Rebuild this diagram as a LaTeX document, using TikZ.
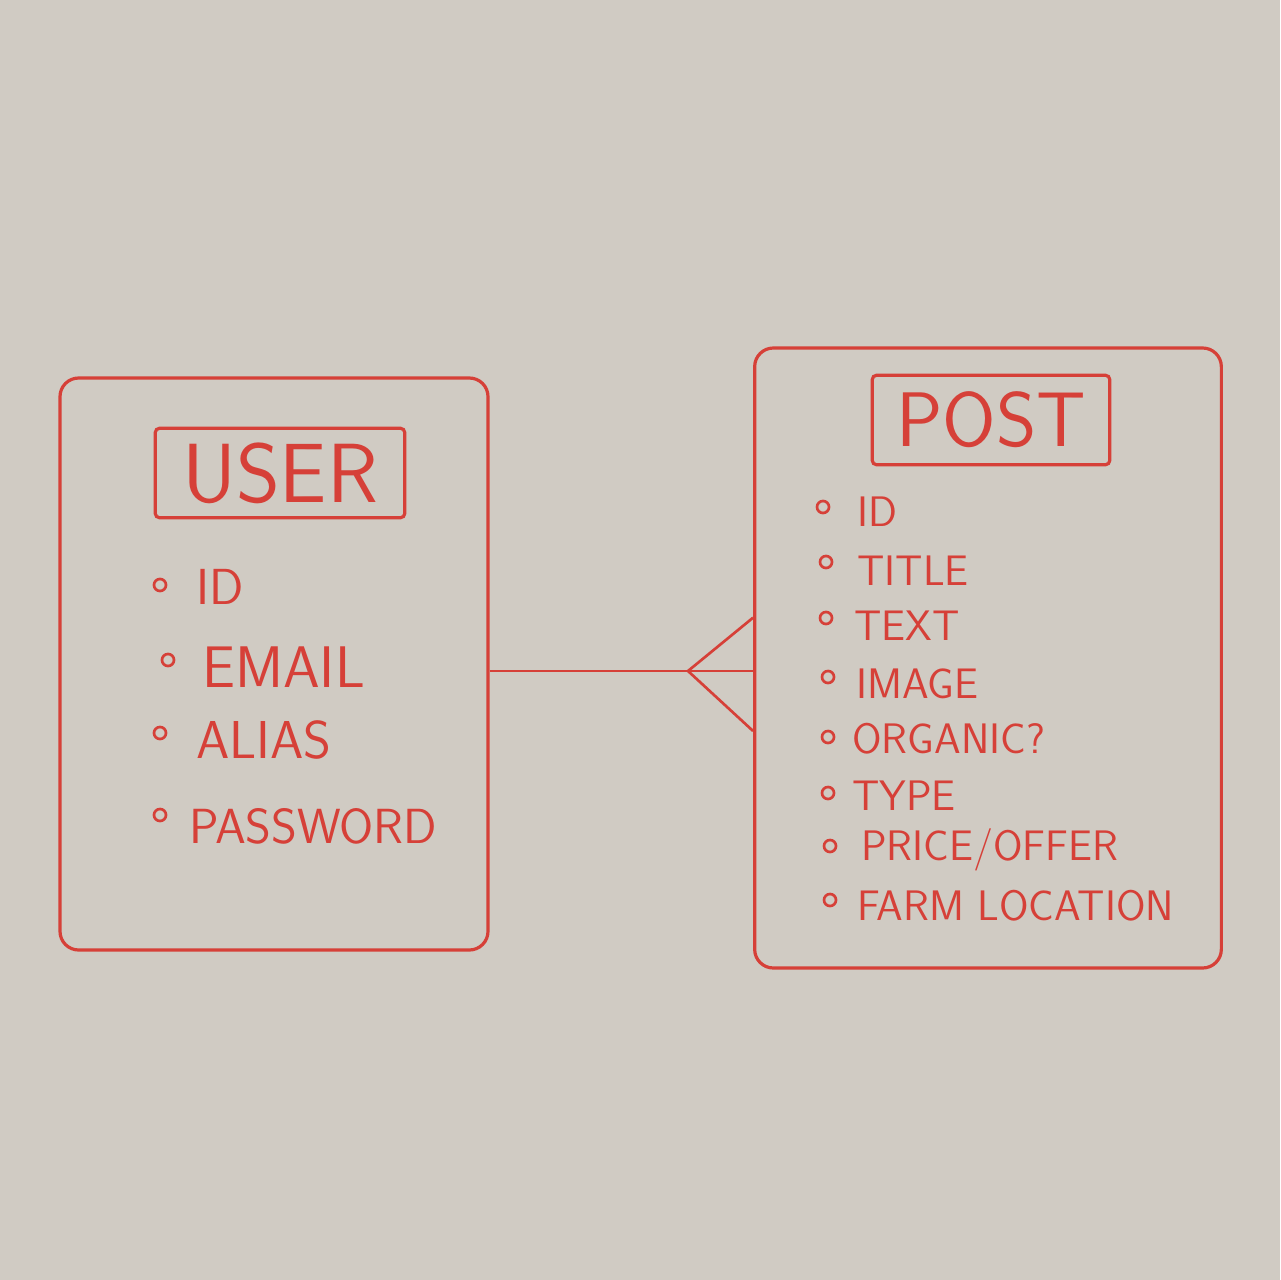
\documentclass[tikz,border=0pt]{standalone}
\usepackage{xcolor}
\usepackage{tikz}
\definecolor{marker}{RGB}{214,64,56}
\definecolor{board}{RGB}{208,203,195}
\tikzset{
  entity/.style={draw=marker, line width=2.4pt, rounded corners=14pt, inner sep=0pt},
  titlebox/.style={draw=marker, line width=2.4pt, rounded corners=3pt, inner sep=0pt, text=marker},
  dotmark/.style={circle, draw=marker, line width=2pt, minimum size=9pt, inner sep=0pt},
  userattr/.style={anchor=west, inner sep=0.75pt, text=marker, font=\sffamily\fontsize{38}{40}\selectfont},
  postattr/.style={anchor=west, inner sep=0.75pt, text=marker, font=\sffamily\fontsize{32}{34}\selectfont},
  link/.style={draw=marker, line width=2pt}
}
\begin{document}
\begin{tikzpicture}[x=0.75pt,y=0.75pt,yscale=-1,xscale=1]
%background board
\fill[board] (0,0) rectangle (1280,1280);
\useasboundingbox (0,0) rectangle (1280,1280);

%Shape: Entity USER
\node [entity, minimum width=321pt, minimum height=429pt] (user) at (274,664) {};
\node [titlebox, minimum width=187pt, minimum height=67pt, font=\sffamily\fontsize{63}{66}\selectfont] (usertitle) at (280,473) {USER};
%Shape: Entity POST
\node [entity, minimum width=350pt, minimum height=465pt] (post) at (988,658) {};
\node [titlebox, minimum width=178pt, minimum height=67pt, font=\sffamily\fontsize{58}{62}\selectfont] (posttitle) at (991,420) {POST};

% Text Node
\node [dotmark] (ubA) at (160,585) {};
\node [userattr] (uid) at (195,587) {ID};
\node [dotmark] (ubB) at (168,660) {};
\node [userattr, font=\sffamily\fontsize{44}{46}\selectfont] (uemail) at (201,667) {EMAIL};
\node [dotmark] (ubC) at (160,733) {};
\node [userattr, font=\sffamily\fontsize{40}{42}\selectfont] (ualias) at (195,740) {ALIAS};
\node [dotmark] (ubD) at (160,815) {};
\node [userattr, font=\sffamily\fontsize{37}{40}\selectfont] (upass) at (188,826) {PASSWORD};

% Text Node
\node [dotmark] (pbA) at (823,507) {};
\node [postattr] (pid) at (856,512) {ID};
\node [dotmark] (pbB) at (826,562) {};
\node [postattr] (ptitle) at (856,571) {TITLE};
\node [dotmark] (pbC) at (826,618) {};
\node [postattr] (ptext) at (853,626) {TEXT};
\node [dotmark] (pbD) at (828,677) {};
\node [postattr] (pimage) at (855,684) {IMAGE};
\node [dotmark] (pbE) at (828,737) {};
\node [postattr] (porganic) at (851,739) {ORGANIC?};
\node [dotmark] (pbF) at (828,793) {};
\node [postattr] (ptype) at (851,796) {TYPE};
\node [dotmark] (pbG) at (830,846) {};
\node [postattr] (pprice) at (860,850) {PRICE/OFFER};
\node [dotmark] (pbH) at (830,900) {};
\node [postattr] (pfarm) at (856,906) {FARM LOCATION};

%Connector: one to many
\coordinate (fork) at (688,671);
\draw [link] (user.east |- fork) -- (fork);
\draw [link] (fork) -- (post.west |- fork);
\draw [link] (fork) -- ([yshift=-40]post.west |- fork);
\draw [link] (fork) -- ([yshift=45]post.west |- fork);
\end{tikzpicture}
\end{document}
